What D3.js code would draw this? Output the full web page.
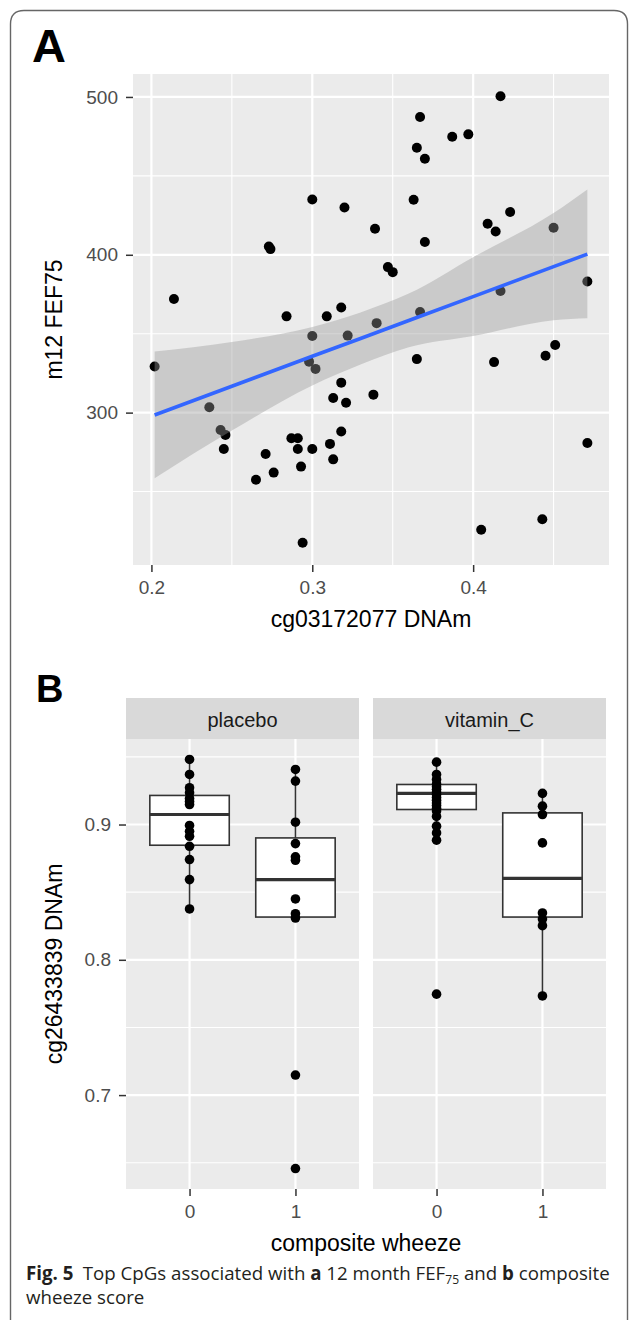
<!DOCTYPE html>
<html>
<head>
<meta charset="utf-8">
<script src="https://cdn.jsdelivr.net/npm/d3@7"></script>
<style>
    body { margin: 0; background: #fff; }
    svg { display: block; font-family: "Liberation Sans", Arial, Helvetica, sans-serif; }
</style>
</head>
<body>
<div class="svg-container"></div>
<script>
// Panel A: cg03172077 DNAm vs m12 FEF75.
const fefX = [0.300, 0.320, 0.339, 0.273, 0.274, 0.214, 0.284, 0.309, 0.318, 0.340,
    0.417, 0.367, 0.387, 0.397, 0.365, 0.370, 0.363, 0.423, 0.409, 0.414,
    0.370, 0.450, 0.347, 0.350, 0.471, 0.417, 0.367, 0.202, 0.236, 0.243,
    0.246, 0.245, 0.300, 0.322, 0.298, 0.302, 0.318, 0.313, 0.321, 0.338,
    0.318, 0.287, 0.291, 0.291, 0.300, 0.311, 0.313, 0.271, 0.276, 0.293,
    0.265, 0.294, 0.365, 0.413, 0.445, 0.451, 0.471, 0.443, 0.405];
const fefY = [435, 430, 416.5, 405.3, 403.6, 372, 361, 361, 366.6, 356.7,
    500.4, 487.3, 474.8, 476.3, 467.8, 460.9, 434.9, 427.1, 419.7, 414.8,
    408.1, 417.1, 392.2, 389, 383.1, 377, 363.7, 329.2, 303.4, 289,
    285.9, 277, 348.6, 348.8, 332.3, 327.7, 319, 309.3, 306.2, 311.4,
    288, 283.8, 283.8, 277, 277, 280.2, 270.4, 273.8, 262, 265.8,
    257.5, 217.6, 333.9, 332, 336, 342.9, 280.8, 232.4, 225.8];

// Linear fit and its confidence band, as drawn.
const smoothX = [0.202, 0.25, 0.30, 0.33, 0.36, 0.40, 0.45, 0.471];
const smoothFit = [298.5, 316.7, 335.7, 347.0, 358.4, 373.5, 392.5, 400.4];
const smoothLo = [258.5, 288.6, 317.2, 330.5, 341.4, 348.5, 358.5, 359.8];
const smoothHi = [338.7, 344.8, 354.3, 363.5, 375.4, 398.5, 426.5, 441.4];

// Panel B: cg26433839 DNAm by composite wheeze, faceted by treatment.
const facets = ["placebo", "vitamin_C"];
const wheezeLevels = ["0", "1"];
const placebo0 = [0.9481, 0.937, 0.9272, 0.9235, 0.9193, 0.917, 0.9148, 0.8993, 0.895, 0.8913, 0.8839, 0.8741, 0.8593, 0.8376];
const placebo1 = [0.9407, 0.9321, 0.9017, 0.8859, 0.8761, 0.8736, 0.845, 0.8341, 0.8309, 0.7148, 0.6457];
const vitaminC0 = [0.9461, 0.937, 0.9333, 0.930, 0.928, 0.926, 0.924, 0.922, 0.920, 0.918, 0.916, 0.914, 0.912, 0.910, 0.906, 0.8988, 0.8938, 0.8884, 0.7746];
const vitaminC1 = [0.923, 0.9136, 0.9074, 0.8864, 0.8346, 0.8301, 0.8252, 0.7733];
// Box statistics per [placebo 0, placebo 1, vitamin_C 0, vitamin_C 1].
const boxLow = [0.8376, 0.8309, 0.8884, 0.7733];
const boxQ1 = [0.8847, 0.8316, 0.9111, 0.8316];
const boxMedian = [0.9074, 0.8593, 0.9230, 0.8602];
const boxQ3 = [0.9215, 0.8901, 0.9296, 0.9086];
const boxHigh = [0.9481, 0.9407, 0.9461, 0.923];

const WIDTH = 629, HEIGHT = 1320;
const PANEL_BG = "#ebebeb";
const TICK_FONT = 19, TITLE_FONT = 23;
const TICK_LEN = 7, TICK_PAD = 8;

const svg = d3
    .select(".svg-container")
    .append("svg")
    .attr("width", WIDTH)
    .attr("height", HEIGHT);

// Rounded frame round the figure.
svg.append("path")
    .attr("d", "M10.5,1320 L10.5,24 Q10.5,10.5 24,10.5 L614,10.5 Q627.5,10.5 627.5,24 L627.5,1320")
    .attr("fill", "none")
    .attr("stroke", "#666")
    .attr("stroke-width", 1.4);

// ggplot-like 5% expansion of a continuous range.
function expand([a, b]) {
    const pad = (b - a) * 0.05;
    return [a - pad, b + pad];
}

function minorTicks(majors, domain) {
    const step = majors[1] - majors[0];
    const minors = [majors[0] - step / 2].concat(majors.map((m) => m + step / 2));
    return minors.filter((m) => m >= domain[0] && m <= domain[1]);
}

function styleAxis(g) {
    g.select(".domain").remove();
    g.selectAll(".tick line").attr("stroke", "#333").attr("stroke-width", 1.5);
    g.selectAll(".tick text")
        .attr("fill", "#4d4d4d")
        .attr("font-size", TICK_FONT)
        .attr("font-family", "Liberation Sans, Arial, sans-serif");
}

function drawGrid(g, x, y, xMajors, xMinors, yMajors, yMinors, box) {
    g.append("rect")
        .attr("x", box.left).attr("y", box.top)
        .attr("width", box.right - box.left).attr("height", box.bottom - box.top)
        .attr("fill", PANEL_BG);
    g.selectAll("line.hminor").data(yMinors).enter().append("line")
        .attr("x1", box.left).attr("x2", box.right)
        .attr("y1", (d) => y(d)).attr("y2", (d) => y(d))
        .attr("stroke", "#fff").attr("stroke-width", 1.1);
    g.selectAll("line.vminor").data(xMinors).enter().append("line")
        .attr("y1", box.top).attr("y2", box.bottom)
        .attr("x1", (d) => x(d)).attr("x2", (d) => x(d))
        .attr("stroke", "#fff").attr("stroke-width", 1.1);
    g.selectAll("line.hmajor").data(yMajors).enter().append("line")
        .attr("x1", box.left).attr("x2", box.right)
        .attr("y1", (d) => y(d)).attr("y2", (d) => y(d))
        .attr("stroke", "#fff").attr("stroke-width", 2.2);
    g.selectAll("line.vmajor").data(xMajors).enter().append("line")
        .attr("y1", box.top).attr("y2", box.bottom)
        .attr("x1", (d) => x(d)).attr("x2", (d) => x(d))
        .attr("stroke", "#fff").attr("stroke-width", 2.2);
}

// ---------------- Panel A ----------------
const boxA = { left: 133, right: 609, top: 74, bottom: 565 };
const xA = d3.scaleLinear().domain(expand(d3.extent(fefX))).range([boxA.left, boxA.right]);
const yA = d3.scaleLinear().domain(expand(d3.extent(fefY))).range([boxA.bottom, boxA.top]);
const xAMajors = xA.ticks(3);
const yAMajors = yA.ticks(3);

const panelA = svg.append("g").classed("panel-a", true);
drawGrid(panelA, xA, yA, xAMajors, minorTicks(xAMajors, xA.domain()),
    yAMajors, minorTicks(yAMajors, yA.domain()), boxA);

panelA.selectAll("circle.point")
    .data(fefX.map((x, i) => [x, fefY[i]]))
    .enter()
    .append("circle")
    .attr("cx", (d) => xA(d[0]))
    .attr("cy", (d) => yA(d[1]))
    .attr("r", 5)
    .attr("fill", "#000");

const band = smoothX.map((x, i) => ({ x, fit: smoothFit[i], lo: smoothLo[i], hi: smoothHi[i] }));
panelA.append("path")
    .datum(band)
    .attr("d", d3.area()
        .x((d) => xA(d.x))
        .y0((d) => yA(d.lo))
        .y1((d) => yA(d.hi))
        .curve(d3.curveMonotoneX))
    .attr("fill", "#999999")
    .attr("fill-opacity", 0.4);
panelA.append("path")
    .datum(band)
    .attr("d", d3.line().x((d) => xA(d.x)).y((d) => yA(d.fit)))
    .attr("fill", "none")
    .attr("stroke", "#3366FF")
    .attr("stroke-width", 3.6);

panelA.append("g")
    .attr("transform", "translate(" + boxA.left + ",0)")
    .call(d3.axisLeft(yA).tickValues(yAMajors).tickSize(TICK_LEN).tickPadding(TICK_PAD).tickFormat(d3.format("d")))
    .call(styleAxis);
panelA.append("g")
    .attr("transform", "translate(0," + boxA.bottom + ")")
    .call(d3.axisBottom(xA).tickValues(xAMajors).tickSize(TICK_LEN).tickPadding(TICK_PAD + 1).tickFormat(d3.format(".1f")))
    .call(styleAxis);

panelA.append("text")
    .attr("x", (boxA.left + boxA.right) / 2)
    .attr("y", boxA.bottom + 62)
    .attr("text-anchor", "middle")
    .attr("font-size", TITLE_FONT)
    .text("cg03172077 DNAm");
panelA.append("text")
    .attr("transform", "translate(61.5," + (boxA.top + boxA.bottom) / 2 + ") rotate(-90)")
    .attr("text-anchor", "middle")
    .attr("font-size", TITLE_FONT)
    .text("m12 FEF75");

svg.append("text")
    .attr("x", 32).attr("y", 62)
    .attr("font-size", 47).attr("font-weight", "bold")
    .text("A");

// ---------------- Panel B ----------------
const boxB = { left: 126, top: 739, bottom: 1189, width: 233, gap: 14, stripTop: 698 };
const groups = [placebo0, placebo1, vitaminC0, vitaminC1];
const yB = d3.scaleLinear().domain(expand(d3.extent(groups.flat()))).range([boxB.bottom, boxB.top]);
const yBMajors = yB.ticks(3);
const yBMinors = minorTicks(yBMajors, yB.domain());

svg.append("text")
    .attr("x", 36).attr("y", 702)
    .attr("font-size", 38).attr("font-weight", "bold")
    .text("B");

facets.forEach((facet, f) => {
    const left = boxB.left + f * (boxB.width + boxB.gap);
    const box = { left, right: left + boxB.width, top: boxB.top, bottom: boxB.bottom };
    const x = d3.scalePoint().domain(wheezeLevels).range([box.left, box.right]).padding(0.6);
    const boxWidth = x.step() * 0.75;
    const g = svg.append("g").classed("facet", true);

    // Strip
    g.append("rect")
        .attr("x", box.left).attr("y", boxB.stripTop)
        .attr("width", boxB.width).attr("height", boxB.top - boxB.stripTop)
        .attr("fill", "#d9d9d9");
    g.append("text")
        .attr("x", (box.left + box.right) / 2)
        .attr("y", boxB.stripTop + 29)
        .attr("text-anchor", "middle")
        .attr("font-size", 20)
        .attr("fill", "#1a1a1a")
        .text(facet);

    const xGrid = (d) => x(d);
    drawGrid(g, xGrid, yB, wheezeLevels, [], yBMajors, yBMinors, box);

    wheezeLevels.forEach((level, l) => {
        const k = f * 2 + l;
        const cx = x(level);
        g.append("line")
            .attr("x1", cx).attr("x2", cx)
            .attr("y1", yB(boxHigh[k])).attr("y2", yB(boxQ3[k]))
            .attr("stroke", "#333").attr("stroke-width", 1.6);
        g.append("line")
            .attr("x1", cx).attr("x2", cx)
            .attr("y1", yB(boxQ1[k])).attr("y2", yB(boxLow[k]))
            .attr("stroke", "#333").attr("stroke-width", 1.6);
        g.append("rect")
            .attr("x", cx - boxWidth / 2)
            .attr("y", yB(boxQ3[k]))
            .attr("width", boxWidth)
            .attr("height", yB(boxQ1[k]) - yB(boxQ3[k]))
            .attr("fill", "#fff")
            .attr("stroke", "#333")
            .attr("stroke-width", 1.6);
        g.append("line")
            .attr("x1", cx - boxWidth / 2).attr("x2", cx + boxWidth / 2)
            .attr("y1", yB(boxMedian[k])).attr("y2", yB(boxMedian[k]))
            .attr("stroke", "#333").attr("stroke-width", 3.2);
        g.selectAll("circle.p" + k)
            .data(groups[k])
            .enter()
            .append("circle")
            .attr("cx", cx)
            .attr("cy", (d) => yB(d))
            .attr("r", 4.8)
            .attr("fill", "#000");
    });

    g.append("g")
        .attr("transform", "translate(0," + box.bottom + ")")
        .call(d3.axisBottom(x).tickSize(TICK_LEN).tickPadding(TICK_PAD + 1))
        .call(styleAxis);
    if (f === 0) {
        g.append("g")
            .attr("transform", "translate(" + box.left + ",0)")
            .call(d3.axisLeft(yB).tickValues(yBMajors).tickSize(TICK_LEN).tickPadding(TICK_PAD).tickFormat(d3.format(".1f")))
            .call(styleAxis);
    }
});

svg.append("text")
    .attr("x", boxB.left + boxB.width + boxB.gap / 2)
    .attr("y", boxB.bottom + 62)
    .attr("text-anchor", "middle")
    .attr("font-size", TITLE_FONT)
    .text("composite wheeze");
svg.append("text")
    .attr("transform", "translate(61.5," + (boxB.top + boxB.bottom) / 2 + ") rotate(-90)")
    .attr("text-anchor", "middle")
    .attr("font-size", TITLE_FONT)
    .text("cg26433839 DNAm");

// ---------------- Caption ----------------
const caption = svg.append("g")
    .attr("font-family", "Open Sans, Noto Sans, sans-serif")
    .attr("fill", "#231f20");
const line1 = caption.append("text").attr("x", 26).attr("y", 1280).attr("font-size", 17);
line1.append("tspan").attr("font-weight", "bold").text("Fig. 5");
line1.append("tspan").text("\u2002Top CpGs associated with ");
line1.append("tspan").attr("font-weight", "bold").text("a");
line1.append("tspan").text(" 12 month FEF");
line1.append("tspan").attr("font-size", 11).attr("dy", 4).text("75");
line1.append("tspan").attr("dy", -4).text(" and ");
line1.append("tspan").attr("font-weight", "bold").text("b");
line1.append("tspan").text(" composite");
// Fit the first caption line to its width in the figure.
const lineLen = line1.node().getComputedTextLength();
const captionScale = 584 / lineLen;
line1.attr("font-size", 17 * captionScale);
line1.selectAll("tspan").filter(function () { return d3.select(this).attr("font-size"); })
    .attr("font-size", 11 * captionScale);
caption.append("text")
    .attr("x", 26).attr("y", 1304)
    .attr("font-size", 17 * captionScale)
    .text("wheeze score");
</script>
</body>
</html>
